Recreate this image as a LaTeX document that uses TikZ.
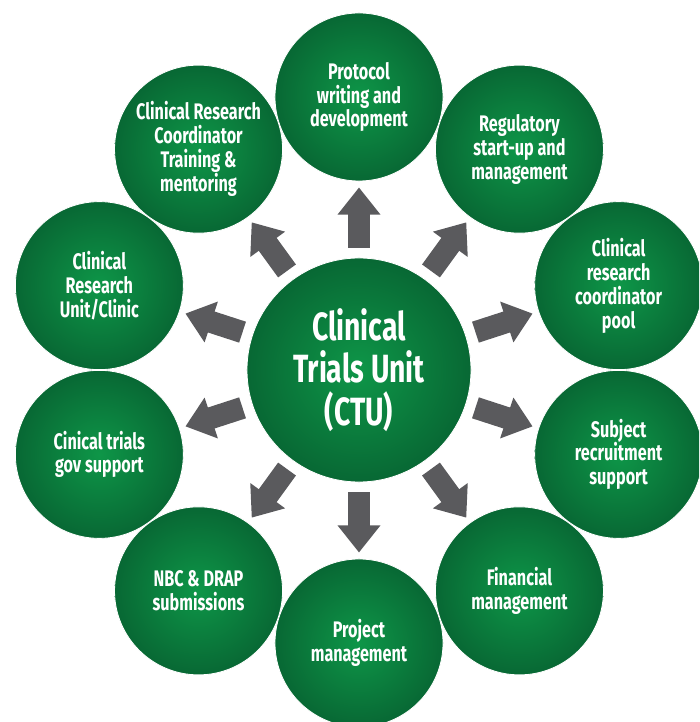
\documentclass[tikz,border=0pt]{standalone}
\usepackage{fontspec}
\setmainfont{Fira Sans}[FakeStretch=0.72]
\usetikzlibrary{arrows.meta}
\definecolor{ctulight}{RGB}{14,150,72}
\definecolor{ctudark}{RGB}{8,104,52}
\definecolor{arrowgray}{RGB}{90,90,93}

\begin{document}
\begin{tikzpicture}[x=0.025cm, y=0.025cm,
  bubble/.style={circle, draw=white, line width=0.6pt, inner color=ctulight, outer color=ctudark,
    text=white, font=\bfseries\fontsize{16}{17}\selectfont, align=center, inner sep=0pt, minimum size=4.2cm},
  hub/.style={bubble, minimum size=5.6cm, font=\bfseries\fontsize{28}{30}\selectfont},
  spoke/.style={arrowgray, line width=0.55cm, -{Triangle[width=1.03cm, length=0.68cm]},
    shorten <=0.25cm, shorten >=0.15cm}]

\useasboundingbox (-359,-352) rectangle (340,370);
\clip (-359,-352) rectangle (340,370);

%%%%%%%%%%%%%%% centre %%%%%%%%%%%%%%%%
\node[hub] (ctu) at (0,0) {Clinical\\Trials Unit\\(CTU)};

%%%%%%%%%%%%%%% ring %%%%%%%%%%%%%%%%
\foreach \ang/\name/\txt in {90/protocol/{Protocol\\writing and\\development},
    54/regulatory/{Regulatory\\start-up and\\management},
    18/pool/{Clinical\\research\\coordinator\\pool},
    -18/subject/{Subject\\recruitment\\support},
    -54/financial/{Financial\\management},
    -90/project/{Project\\management},
    -126/nbc/{NBC \& DRAP\\submissions},
    -162/gov/{Cinical trials\\gov support},
    162/unit/{Clinical\\Research\\Unit/Clinic},
    126/training/{Clinical Research\\Coordinator\\Training \&\\mentoring}}
  \node[bubble] (\name) at (\ang:273) {\txt};

%%%%%%%%%%%%%%% arrows %%%%%%%%%%%%%%%%
\foreach \name in {protocol,regulatory,pool,subject,financial,project,nbc,gov,unit,training}
  \draw[spoke] (ctu) -- (\name);

\end{tikzpicture}
\end{document}
